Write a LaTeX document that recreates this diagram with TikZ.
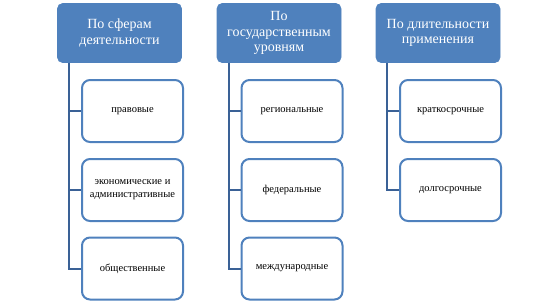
\documentclass[tikz,border=0pt]{standalone}
\usepackage{fontspec}
\setmainfont{Liberation Serif}
\usetikzlibrary{calc}
\definecolor{hdrblue}{HTML}{4F81BD}
\definecolor{linkblue}{HTML}{3A6196}
\begin{document}
\begin{tikzpicture}[x=1pt,y=-1pt,
  hdr/.style={rectangle, rounded corners=5pt, fill=hdrblue, draw=hdrblue, line width=0.6pt,
    minimum width=124pt, minimum height=59pt, inner sep=2pt, align=center, text=white,
    font=\rmfamily\fontsize{14}{15.3}\selectfont},
  item/.style={rectangle, rounded corners=8pt, fill=white, draw=hdrblue, line width=2pt,
    minimum width=101pt, minimum height=62pt, inner sep=2pt, align=center, text=black,
    font=\rmfamily\fontsize{10.5}{13}\selectfont},
  link/.style={draw=linkblue, line width=2pt}]
\useasboundingbox (0,0) rectangle (558,301);
% headers
\node[hdr] (h1) at (119.5,33) {По сферам\\деятельности};
\node[hdr] (h2) at (279,33) {По\\государственным\\уровням};
\node[hdr] (h3) at (438,33) {По длительности\\применения};
% column 1
\node[item] (a1) at (132.5,111) {правовые};
\node[item] (a2) at (132.5,190) {экономические и\\административные};
\node[item] (a3) at (132.5,268.5) {общественные};
% column 2
\node[item] (b1) at (292,111) {региональные};
\node[item] (b2) at (292,190) {федеральные};
\node[item] (b3) at (292,268.5) {международные};
% column 3
\node[item] (c1) at (450.5,111) {краткосрочные};
\node[item] (c2) at (450.5,190) {долгосрочные};
% connector tops
\coordinate (t1) at ($(h1.south west)+(12,0)$);
\coordinate (t2) at ($(h2.south west)+(12,0)$);
\coordinate (t3) at ($(h3.south west)+(11,0)$);
\path[link] (t1) |- (a1.west);
\path[link] (t1) |- (a2.west);
\path[link] (t1) |- (a3.west);
\path[link] (t2) |- (b1.west);
\path[link] (t2) |- (b2.west);
\path[link] (t2) |- (b3.west);
\path[link] (t3) |- (c1.west);
\path[link] (t3) |- (c2.west);
\end{tikzpicture}
\end{document}
